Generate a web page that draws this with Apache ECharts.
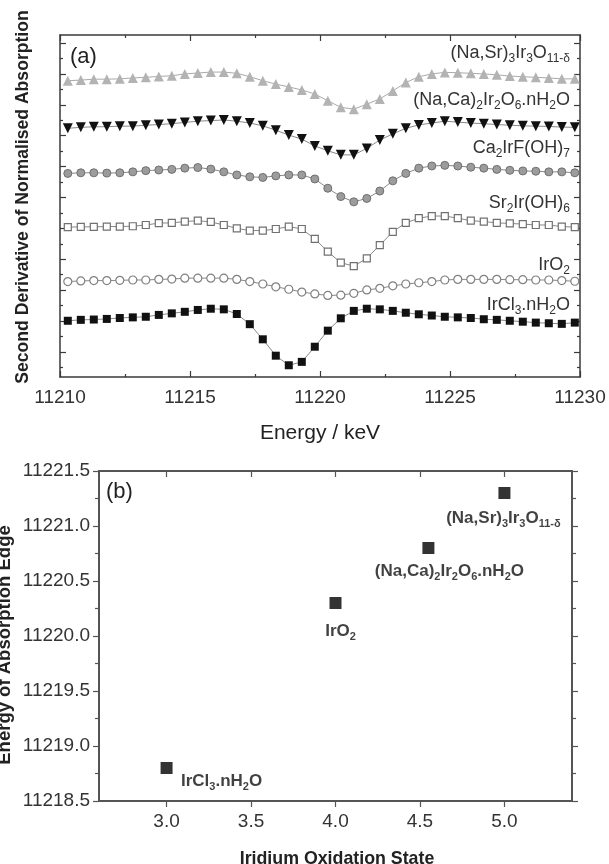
<!DOCTYPE html>
<html><head><meta charset="utf-8">
<script src="https://cdn.jsdelivr.net/npm/echarts@6/dist/echarts.min.js"></script>
<style>html,body{margin:0;padding:0;background:#fff}#c{width:609px;height:864px}</style>
</head><body><div id="c"></div>
<script>
// ---------- DATA ----------
const energies = [11210.3, 11210.8, 11211.3, 11211.8, 11212.3, 11212.8, 11213.3, 11213.8, 11214.3, 11214.8,
  11215.3, 11215.8, 11216.3, 11216.8, 11217.3, 11217.8, 11218.3, 11218.8, 11219.3, 11219.8,
  11220.3, 11220.8, 11221.3, 11221.8, 11222.3, 11222.8, 11223.3, 11223.8, 11224.3, 11224.8,
  11225.3, 11225.8, 11226.3, 11226.8, 11227.3, 11227.8, 11228.3, 11228.8, 11229.3, 11229.8];

const naSrIrO = [8.78, 8.80, 8.83, 8.83, 8.84, 8.87, 8.89, 8.92, 8.94, 9.00,
  9.03, 9.06, 9.06, 9.02, 8.91, 8.78, 8.67, 8.58, 8.48, 8.35,
  8.13, 7.92, 7.86, 8.02, 8.19, 8.45, 8.72, 8.91, 9.00, 9.05,
  9.04, 9.02, 9.00, 8.97, 8.93, 8.91, 8.89, 8.87, 8.84, 8.84];

const naCaIrO = [7.24, 7.27, 7.29, 7.29, 7.31, 7.31, 7.34, 7.36, 7.39, 7.43,
  7.47, 7.49, 7.51, 7.47, 7.41, 7.32, 7.18, 7.02, 6.89, 6.67,
  6.51, 6.38, 6.38, 6.59, 6.86, 7.06, 7.24, 7.35, 7.41, 7.47,
  7.44, 7.41, 7.39, 7.36, 7.34, 7.32, 7.31, 7.30, 7.28, 7.27];

const ca2IrF = [5.78, 5.80, 5.80, 5.79, 5.80, 5.83, 5.87, 5.89, 5.91, 5.95,
  5.97, 5.92, 5.83, 5.73, 5.67, 5.65, 5.70, 5.73, 5.73, 5.60,
  5.30, 5.03, 4.86, 4.97, 5.21, 5.54, 5.78, 5.95, 6.02, 6.04,
  6.02, 5.98, 5.95, 5.91, 5.88, 5.86, 5.85, 5.83, 5.83, 5.80];

const sr2IrOH = [4.04, 4.05, 4.05, 4.06, 4.06, 4.07, 4.11, 4.17, 4.18, 4.22,
  4.25, 4.21, 4.11, 4.00, 3.93, 3.93, 3.98, 4.06, 3.98, 3.66,
  3.25, 2.89, 2.78, 3.03, 3.46, 3.89, 4.18, 4.33, 4.40, 4.40,
  4.33, 4.25, 4.22, 4.18, 4.16, 4.14, 4.11, 4.11, 4.06, 4.04];

const irO2 = [2.28, 2.30, 2.31, 2.31, 2.32, 2.33, 2.33, 2.35, 2.36, 2.39,
  2.39, 2.39, 2.39, 2.35, 2.28, 2.20, 2.11, 2.03, 1.94, 1.88,
  1.83, 1.84, 1.90, 2.01, 2.06, 2.14, 2.20, 2.24, 2.28, 2.33,
  2.35, 2.35, 2.35, 2.35, 2.34, 2.34, 2.33, 2.33, 2.31, 2.29];

const irCl3 = [1.01, 1.04, 1.05, 1.07, 1.10, 1.12, 1.14, 1.20, 1.25, 1.30,
  1.36, 1.40, 1.38, 1.23, 0.90, 0.41, -0.12, -0.43, -0.32, 0.17,
  0.69, 1.09, 1.33, 1.40, 1.38, 1.33, 1.27, 1.22, 1.18, 1.14,
  1.12, 1.10, 1.06, 1.04, 1.01, 0.98, 0.95, 0.93, 0.91, 0.95];

const spectraLabels = ['(Na,Sr){s|3}Ir{s|3}O{s|11-δ}', '(Na,Ca){s|2}Ir{s|2}O{s|6}.nH{s|2}O', 'Ca{s|2}IrF(OH){s|7}',
  'Sr{s|2}Ir(OH){s|6}', 'IrO{s|2}', 'IrCl{s|3}.nH{s|2}O'];

const oxidationStates = [3.0, 4.0, 4.55, 5.0];
const edgeEnergies = [11218.8, 11220.3, 11220.8, 11221.3];
const compoundLabels = ['IrCl{s|3}.nH{s|2}O', 'IrO{s|2}', '(Na,Ca){s|2}Ir{s|2}O{s|6}.nH{s|2}O', '(Na,Sr){s|3}Ir{s|3}O{s|11-δ}'];

const energyTicks = [11210, 11215, 11220, 11225, 11230];
const oxidationTicks = [3.0, 3.5, 4.0, 4.5, 5.0];
const edgeTicks = [11218.5, 11219.0, 11219.5, 11220.0, 11220.5, 11221.0, 11221.5];
const offsetMajorTicks = [0, 1, 2, 3, 4, 5, 6, 7, 8, 9, 10];
const offsetMinorTicks = [-0.5, 0.5, 1.5, 2.5, 3.5, 4.5, 5.5, 6.5, 7.5, 8.5, 9.5];

// ---------- CHART ----------
const FONT = '"Liberation Sans", Arial, sans-serif';
const AX = '#3a3a3a';
const chart = echarts.init(document.getElementById('c'), null, {renderer: 'canvas'});

function pairs(ys) { return energies.map((e, i) => [e, ys[i]]); }

const yMin = -0.81, yMax = 10.26;
function yAx(pos, ticks, len, showLine) {
  return {
    type: 'value', gridIndex: 0, position: pos, min: yMin, max: yMax,
    axisLine: {show: showLine, lineStyle: {color: AX, width: 1.5}},
    axisTick: {show: true, inside: true, length: len, customValues: ticks, lineStyle: {color: AX, width: 1.2}},
    axisLabel: {show: false}, splitLine: {show: false}
  };
}

const lineCommon = {type: 'line', xAxisIndex: 0, yAxisIndex: 0, silent: true, animation: false,
  lineStyle: {color: '#888', width: 1}};

const richSmall = {s: {fontSize: 12, padding: [12, 0, 0, 0], fontFamily: FONT, fill: '#333', color: '#333'}};
const richBoldSmall = {s: {fontSize: 11, fontWeight: 'bold', padding: [11, 0, 0, 0], fontFamily: FONT, color: '#111'}};

const labelYs = [53, 100, 148, 203, 265, 305];

const option = {
  animation: false,
  backgroundColor: '#fff',
  grid: [
    {left: 60, top: 35, width: 520, height: 342},
    {left: 99, top: 471, width: 473, height: 330}
  ],
  xAxis: [
    {type: 'value', gridIndex: 0, position: 'bottom', min: energyTicks[0], max: energyTicks[energyTicks.length - 1], interval: 5,
      axisLine: {show: true, onZero: false, lineStyle: {color: AX, width: 1.5}},
      axisTick: {inside: true, length: 6, lineStyle: {color: AX, width: 1.2}},
      minorTick: {show: true, splitNumber: 2, length: 3, lineStyle: {color: AX, width: 1.2}},
      axisLabel: {fontSize: 19, color: '#333', fontFamily: FONT, margin: 11, formatter: v => String(v)},
      splitLine: {show: false}},
    {type: 'value', gridIndex: 0, position: 'top', min: energyTicks[0], max: energyTicks[energyTicks.length - 1], interval: 5,
      axisLine: {show: true, onZero: false, lineStyle: {color: AX, width: 1.5}},
      axisTick: {inside: true, length: 6, lineStyle: {color: AX, width: 1.2}},
      minorTick: {show: true, splitNumber: 2, length: 3, lineStyle: {color: AX, width: 1.2}},
      axisLabel: {show: false}, splitLine: {show: false}},
    {type: 'value', gridIndex: 1, position: 'bottom', min: 2.6, max: 5.4,
      axisLine: {show: true, onZero: false, lineStyle: {color: '#555', width: 2}},
      axisTick: {inside: false, length: 6, customValues: oxidationTicks, lineStyle: {color: '#555', width: 1.2}},
      axisLabel: {fontSize: 19, color: '#333', fontFamily: FONT, margin: 11, customValues: oxidationTicks,
        formatter: v => v.toFixed(1)},
      splitLine: {show: false}},
    {type: 'value', gridIndex: 1, position: 'top', min: 2.6, max: 5.4,
      axisLine: {show: true, onZero: false, lineStyle: {color: '#555', width: 2}},
      axisTick: {inside: true, length: 6, customValues: oxidationTicks, lineStyle: {color: '#555', width: 1.2}},
      axisLabel: {show: false}, splitLine: {show: false}}
  ],
  yAxis: [
    yAx('left', offsetMajorTicks, 6, true),
    yAx('left', offsetMinorTicks, 3, false),
    yAx('right', offsetMajorTicks, 6, true),
    yAx('right', offsetMinorTicks, 3, false),
    {type: 'value', gridIndex: 1, position: 'left', min: edgeTicks[0], max: edgeTicks[edgeTicks.length - 1], interval: 0.5,
      axisLine: {show: true, onZero: false, lineStyle: {color: '#555', width: 2}},
      axisTick: {inside: false, length: 6, lineStyle: {color: '#555', width: 1.2}},
      minorTick: {show: true, splitNumber: 2, length: 4, lineStyle: {color: '#555', width: 1.2}},
      axisLabel: {fontSize: 19, color: '#333', fontFamily: FONT, margin: 9, formatter: v => v.toFixed(1)},
      splitLine: {show: false}},
    {type: 'value', gridIndex: 1, position: 'right', min: edgeTicks[0], max: edgeTicks[edgeTicks.length - 1], interval: 0.5,
      axisLine: {show: true, onZero: false, lineStyle: {color: '#555', width: 2}},
      axisTick: {inside: false, length: 6, lineStyle: {color: '#555', width: 1.2}},
      minorTick: {show: true, splitNumber: 2, length: 4, lineStyle: {color: '#555', width: 1.2}},
      axisLabel: {show: false}, splitLine: {show: false}}
  ],
  series: [
    Object.assign({}, lineCommon, {name: 'NaSr', data: pairs(naSrIrO), symbol: 'triangle', symbolSize: 10,
      itemStyle: {color: '#b3b3b3', borderWidth: 0}, lineStyle: {color: '#aaa', width: 1}}),
    Object.assign({}, lineCommon, {name: 'NaCa', data: pairs(naCaIrO), symbol: 'triangle', symbolRotate: 180, symbolSize: 10,
      itemStyle: {color: '#111', borderWidth: 0}}),
    Object.assign({}, lineCommon, {name: 'Ca2IrF', data: pairs(ca2IrF), symbol: 'circle', symbolSize: 8,
      itemStyle: {color: '#9c9c9c', borderColor: '#6f6f6f', borderWidth: 1}}),
    Object.assign({}, lineCommon, {name: 'Sr2Ir', data: pairs(sr2IrOH), symbol: 'rect', symbolSize: 7,
      itemStyle: {color: '#fff', borderColor: '#707070', borderWidth: 1.2}}),
    Object.assign({}, lineCommon, {name: 'IrO2', data: pairs(irO2), symbol: 'circle', symbolSize: 8,
      itemStyle: {color: '#fff', borderColor: '#808080', borderWidth: 1.2}}),
    Object.assign({}, lineCommon, {name: 'IrCl3', data: pairs(irCl3), symbol: 'rect', symbolSize: 8,
      itemStyle: {color: '#111', borderWidth: 0}}),
    {type: 'scatter', xAxisIndex: 2, yAxisIndex: 4, symbol: 'rect', symbolSize: 12, silent: true,
      itemStyle: {color: '#000'},
      data: oxidationStates.map((x, i) => [x, edgeEnergies[i]]),
      label: {show: true, fontFamily: FONT, fontWeight: 'bold', fontSize: 17, color: '#111',
        formatter: p => compoundLabels[p.dataIndex], rich: richBoldSmall,
        position: 'inside', align: 'center', verticalAlign: 'middle'},
      labelLayout: p => {
        const off = [[55, 13], [5, 28], [21, 23], [-1, 25]][p.dataIndex];
        return {x: p.rect.x + p.rect.width / 2 + off[0], y: p.rect.y + p.rect.height / 2 + off[1], align: 'center', verticalAlign: 'middle'};
      }}
  ],
  graphic: [
    {type: 'text', x: 70, y: 57, style: {text: '(a)', font: '22px ' + FONT, fill: '#222', verticalAlign: 'middle'}},
    {type: 'text', x: 106, y: 492, style: {text: '(b)', font: '22px ' + FONT, fill: '#222', verticalAlign: 'middle'}},
    {type: 'text', x: 320, y: 433, style: {text: 'Energy / keV', font: '21px ' + FONT, fill: '#222', align: 'center', verticalAlign: 'middle'}},
    {type: 'text', x: 23, y: 197, rotation: Math.PI / 2, style: {text: 'Second Derivative of Normalised Absorption', font: 'bold 17.6px ' + FONT, fill: '#222', align: 'center', verticalAlign: 'middle'}},
    {type: 'text', x: 5, y: 645, rotation: Math.PI / 2, style: {text: 'Energy of Absorption Edge', font: 'bold 18.5px ' + FONT, fill: '#222', align: 'center', verticalAlign: 'middle'}},
    {type: 'text', x: 337, y: 859, style: {text: 'Iridium Oxidation State', font: 'bold 17.8px ' + FONT, fill: '#222', align: 'center', verticalAlign: 'middle'}}
  ].concat(spectraLabels.map((t, i) => ({
    type: 'text', x: 570, y: labelYs[i],
    style: {text: t, fontFamily: FONT, fontSize: 18, fill: '#333', align: 'right', verticalAlign: 'middle', rich: richSmall}
  })))
};
chart.setOption(option);
</script></body></html>
